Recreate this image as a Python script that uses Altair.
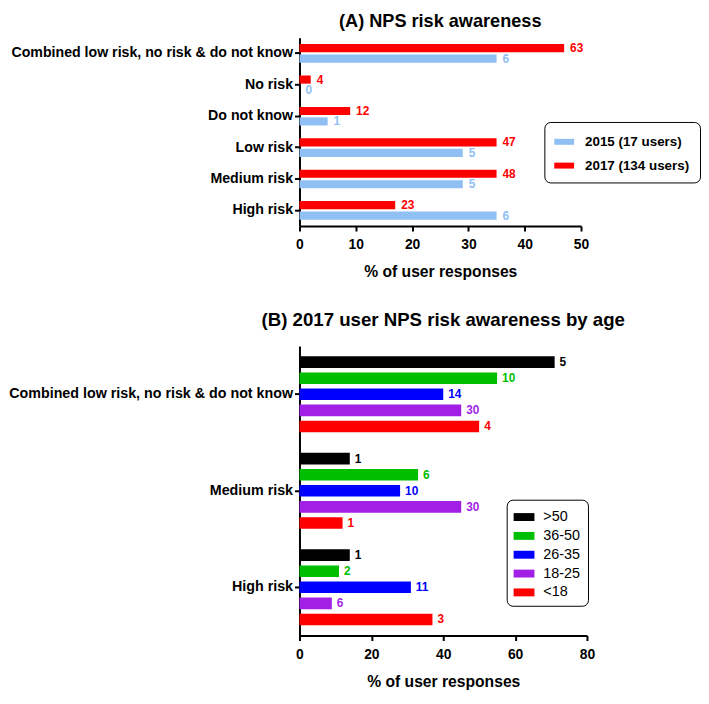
import altair as alt
import pandas as pd

# ---------------- data ----------------
cats_a = ["Combined low risk, no risk & do not know", "No risk", "Do not know",
          "Low risk", "Medium risk", "High risk"]
series_a = ["2015 (17 users)", "2017 (134 users)"]
pct_2015 = [35, 0, 5, 29, 29, 35]
pct_2017 = [47, 2, 9, 35, 35, 17]
n_2015 = [6, 0, 1, 5, 5, 6]
n_2017 = [63, 4, 12, 47, 48, 23]

cats_b = ["Combined low risk, no risk & do not know", "Medium risk", "High risk"]
ages = [">50", "36-50", "26-35", "18-25", "<18"]
pct_b = {
    ">50": [71, 14, 14],
    "36-50": [55, 33, 11],
    "26-35": [40, 28, 31],
    "18-25": [45, 45, 9],
    "<18": [50, 12, 37],
}
n_b = {
    ">50": [5, 1, 1],
    "36-50": [10, 6, 2],
    "26-35": [14, 10, 11],
    "18-25": [30, 30, 6],
    "<18": [4, 1, 3],
}

# ---------------- tables ----------------
rows_a = []
for i, c in enumerate(cats_a):
    rows_a.append({"cat": c, "series": series_a[0], "key": c + "||" + series_a[0],
                   "pct": pct_2015[i], "n": n_2015[i]})
    rows_a.append({"cat": c, "series": series_a[1], "key": c + "||" + series_a[1],
                   "pct": pct_2017[i], "n": n_2017[i]})
df_a = pd.DataFrame(rows_a)

# slot order inside each category (2017 on top), with a spacer between categories
dom_a = []
for i, c in enumerate(cats_a):
    if i > 0:
        dom_a.append(c + "||gap")
    dom_a += [c + "||" + series_a[1], c + "||" + series_a[0]]

rows_b = []
for i, c in enumerate(cats_b):
    for g in ages:
        rows_b.append({"cat": c, "age": g, "key": c + "||" + g,
                       "pct": pct_b[g][i], "n": n_b[g][i]})
df_b = pd.DataFrame(rows_b)

dom_b = []
for i, c in enumerate(cats_b):
    if i > 0:
        dom_b.append(c + "||gap")
    dom_b += [c + "||" + g for g in ages]

FONT = "Liberation Sans"
col_a = ["#8FBFF3", "#FF0000"]
col_b = ["#000000", "#00BE00", "#0000FF", "#A21FE6", "#FF0000"]


def xaxis(vals):
    return alt.Axis(values=vals, grid=False, title="% of user responses",
                    titleFont=FONT, titleFontSize=15.8, titleFontWeight="bold",
                    titleColor="black", titlePadding=13,
                    labelFont=FONT, labelFontSize=14, labelFontWeight="bold",
                    labelColor="black", labelPadding=7, labelFlush=False,
                    labelOverlap=False,
                    domainColor="black", domainWidth=2, tickColor="black",
                    tickWidth=2, tickSize=5)


def yaxis(fs):
    return alt.Axis(title=None, orient="left", labelFont=FONT, labelFontSize=fs,
                    labelFontWeight="bold", labelColor="black", labelLimit=500,
                    labelPadding=2, domainColor="black", domainWidth=2,
                    tickColor="black", tickWidth=2, tickSize=5)


def panel(df, cats, dom, field, domain_vals, colors, xdom, xticks, pi, po,
          yfs, legend, dx, w, h, title, tfs, toff):
    xenc = alt.X("pct:Q", scale=alt.Scale(domain=xdom, nice=False), axis=xaxis(xticks))
    yscale = alt.Scale(type="band", domain=dom, paddingInner=pi, paddingOuter=po)
    axis_layer = alt.Chart(df).mark_point(opacity=0).encode(
        y=alt.Y("cat:N", sort=cats,
                scale=alt.Scale(type="band", domain=cats, paddingInner=0, paddingOuter=0),
                axis=yaxis(yfs), bandPosition=0.5),
        x=xenc,
    )
    bars = alt.Chart(df).mark_bar().encode(
        y=alt.Y("key:N", scale=yscale, axis=None), x=xenc,
        color=alt.Color(field + ":N", scale=alt.Scale(domain=domain_vals, range=colors),
                        legend=legend),
    )
    text = alt.Chart(df).mark_text(align="left", baseline="middle", dx=dx, font=FONT,
                                   fontSize=12, fontWeight="bold").encode(
        y=alt.Y("key:N", scale=yscale, axis=None, bandPosition=0.5), x=xenc, text="n:Q",
        color=alt.Color(field + ":N", scale=alt.Scale(domain=domain_vals, range=colors),
                        legend=None),
    )
    return alt.layer(axis_layer, bars, text).resolve_scale(y="independent").properties(
        width=w, height=h,
        title=alt.TitleParams(title, font=FONT, fontSize=tfs, fontWeight="bold",
                              anchor="middle", frame="group", offset=toff, color="black"),
    )


legend_a = alt.Legend(title=None, orient="none", legendX=247, legendY=85,
                      strokeColor="black", cornerRadius=6, padding=10,
                      labelFont=FONT, labelFontSize=13.5, labelFontWeight="bold",
                      labelColor="black", labelOffset=11, rowPadding=7,
                      symbolType="M-1,-0.3H1V0.3H-1Z", symbolSize=400,
                      symbolStrokeWidth=0)
legend_b = alt.Legend(title=None, orient="none", legendX=209, legendY=155,
                      strokeColor="black", cornerRadius=6, padding=7,
                      labelFont=FONT, labelFontSize=14.5,
                      labelColor="black", labelOffset=9, rowPadding=2,
                      symbolType="M-1,-0.38H1V0.38H-1Z", symbolSize=441,
                      symbolStrokeWidth=0)

pi_a = 0.223
panel_a = panel(df_a, cats_a, dom_a, "series", series_a, col_a, [0, 50],
                [0, 10, 20, 30, 40, 50], pi_a, (1 + pi_a) / 2, 14.3, legend_a, 6,
                284, 190, "(A) NPS risk awareness", 18.3, 7)

pi_b = 0.28
panel_b = panel(df_b, cats_b, dom_b, "age", ages, col_b, [0, 80],
                [0, 20, 40, 60, 80], pi_b, (1 + pi_b) / 2, 14.4, legend_b, 5,
                290, 292, "(B) 2017 user NPS risk awareness by age", 18.8, 16)

chart = alt.vconcat(panel_a, panel_b, spacing=32).resolve_scale(
    color="independent"
).properties(padding=0).configure_view(stroke=None)

chart.save("out.html", embed_options={"renderer": "svg", "actions": False})
